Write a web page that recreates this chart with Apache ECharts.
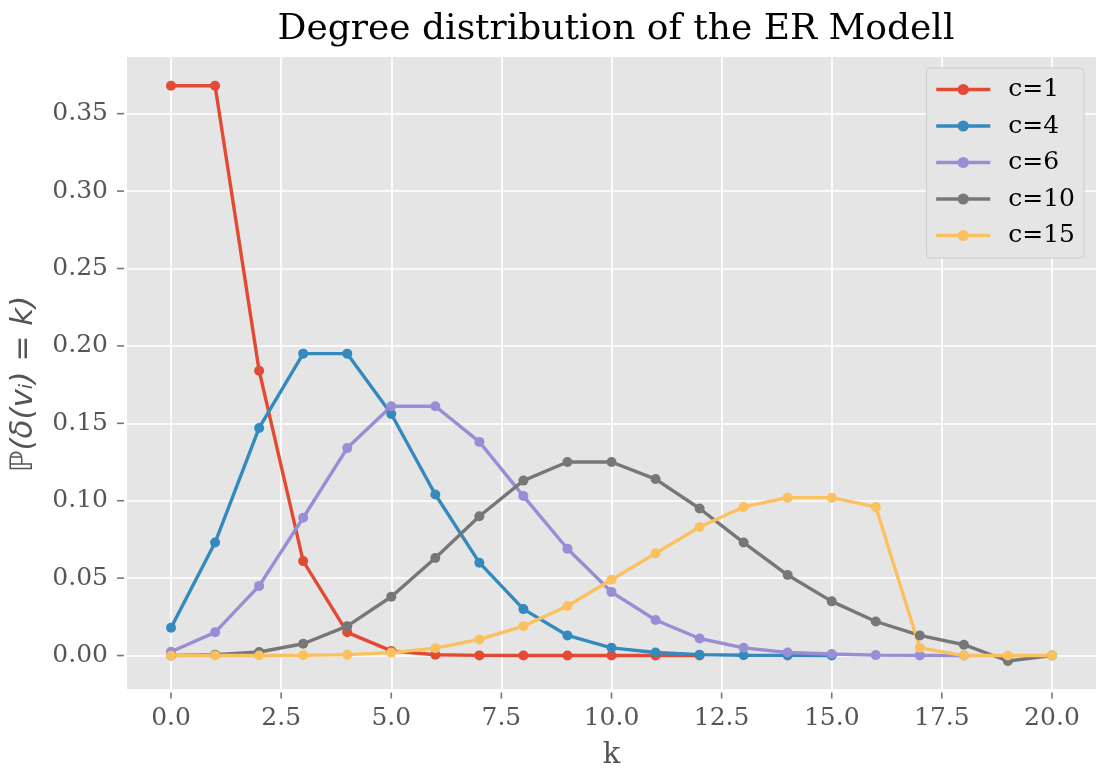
<!DOCTYPE html>
<html>
<head>
<meta charset="utf-8">
<script src="https://cdn.jsdelivr.net/npm/echarts@6/dist/echarts.min.js"></script>
<style>
  html, body { margin: 0; padding: 0; background: #fff; }
  #chart { width: 1097px; height: 773px; }
</style>
</head>
<body>
<div id="chart"></div>
<script>
// values
var kValues = [0, 1, 2, 3, 4, 5, 6, 7, 8, 9, 10, 11, 12, 13, 14, 15, 16, 17, 18, 19, 20];
var c1  = [0.368, 0.368, 0.184, 0.061, 0.015, 0.003, 0.0005, 0.0001, 0, 0, 0, 0, 0];
var c4  = [0.018, 0.073, 0.147, 0.195, 0.195, 0.156, 0.104, 0.060, 0.030, 0.013, 0.005, 0.002, 0.0006, 0.0002, 0.0001, 0];
var c6  = [0.0025, 0.015, 0.045, 0.089, 0.134, 0.161, 0.161, 0.138, 0.103, 0.069, 0.041, 0.023, 0.011, 0.005, 0.002, 0.001, 0.0003, 0.0001, 0];
var c10 = [0, 0.0005, 0.0023, 0.0076, 0.019, 0.038, 0.063, 0.090, 0.113, 0.125, 0.125, 0.114, 0.095, 0.073, 0.052, 0.035, 0.022, 0.013, 0.007, -0.0035, 0];
var c15 = [0, 0, 0, 0.0002, 0.0006, 0.0019, 0.0048, 0.0104, 0.019, 0.032, 0.049, 0.066, 0.083, 0.096, 0.102, 0.102, 0.096, 0.005, 0, 0, 0];
var seriesNames = ['c=1', 'c=4', 'c=6', 'c=10', 'c=15'];
var xTicks = [0, 2.5, 5, 7.5, 10, 12.5, 15, 17.5, 20];
var yTicks = [0, 0.05, 0.10, 0.15, 0.20, 0.25, 0.30, 0.35];

var colors = ['#E24A33', '#348ABD', '#988ED5', '#777777', '#FBC15E'];
var serif = 'DejaVu Serif';
var xMin = -1, xMax = 21;
var yMin = -0.0216, yMax = 0.3866;

function pairs(ys) {
    return ys.map(function (y, i) { return [kValues[i], y]; });
}

var chart = echarts.init(document.getElementById('chart'));

var series = [c1, c4, c6, c10, c15].map(function (ys, i) {
    return {
        name: seriesNames[i],
        type: 'line',
        data: pairs(ys),
        symbol: 'circle',
        symbolSize: 10,
        showSymbol: true,
        animation: false,
        lineStyle: { width: 3.4, color: colors[i] },
        itemStyle: { color: colors[i] },
        emphasis: { disabled: true }
    };
});

// matplotlib-style outward tick marks, placed on the axis edges through the scales
series.push({
    name: 'x ticks',
    type: 'scatter',
    data: xTicks.map(function (v) { return [v, yMin]; }),
    symbol: 'rect',
    symbolSize: [1.6, 6],
    symbolOffset: [0, 6.5],
    clip: false,
    silent: true,
    animation: false,
    z: 5,
    itemStyle: { color: '#555555' },
    emphasis: { disabled: true }
});
series.push({
    name: 'y ticks',
    type: 'scatter',
    data: yTicks.map(function (v) { return [xMin, v]; }),
    symbol: 'rect',
    symbolSize: [7, 1.6],
    symbolOffset: [-6.5, 0],
    clip: false,
    silent: true,
    animation: false,
    z: 5,
    itemStyle: { color: '#555555' },
    emphasis: { disabled: true }
});

var option = {
    backgroundColor: '#ffffff',
    color: colors,
    tooltip: { show: false },
    title: {
        text: 'Degree distribution of the ER Modell',
        left: 611,
        top: 7,
        textAlign: 'center',
        textStyle: { fontFamily: serif, fontSize: 36, fontWeight: 'normal', color: '#000' }
    },
    grid: {
        left: 127,
        right: 1,
        top: 57,
        bottom: 84,
        outerBoundsMode: 'none',
        show: true,
        backgroundColor: '#E5E5E5',
        borderWidth: 0
    },
    legend: {
        orient: 'vertical',
        right: 13,
        top: 68,
        padding: [9, 9, 10, 8],
        itemWidth: 54,
        itemHeight: 14,
        itemGap: 11.5,
        backgroundColor: '#E5E5E5',
        borderColor: '#CCCCCC',
        borderWidth: 1,
        borderRadius: 4,
        lineStyle: { width: 3.5 },
        textStyle: { fontFamily: serif, fontSize: 25, color: '#000', padding: [0, 0, 0, 13] },
        data: seriesNames
    },
    xAxis: {
        type: 'value',
        min: xMin,
        max: xMax,
        name: 'k',
        nameLocation: 'middle',
        nameGap: 52,
        nameTextStyle: { fontFamily: serif, fontSize: 29, color: '#555' },
        axisLine: { show: false, onZero: false },
        axisTick: { show: false, customValues: xTicks },
        axisLabel: {
            margin: 17,
            fontFamily: serif,
            fontSize: 25,
            color: '#555',
            customValues: xTicks,
            formatter: function (v) { return v.toFixed(1); }
        },
        splitLine: { show: true, lineStyle: { color: '#fff', width: 1.7 } }
    },
    yAxis: {
        type: 'value',
        min: yMin,
        max: yMax,
        name: 'ℙ(δ(vᵢ) = k)',
        nameLocation: 'middle',
        nameGap: 88,
        nameTextStyle: { fontFamily: 'DejaVu Sans', fontStyle: 'italic', fontSize: 31, color: '#555', padding: [0, 22, 0, 0] },
        axisLine: { show: false, onZero: false },
        axisTick: { show: false, customValues: yTicks },
        axisLabel: {
            margin: 19,
            fontFamily: serif,
            fontSize: 25,
            color: '#555',
            customValues: yTicks,
            formatter: function (v) { return v.toFixed(2); }
        },
        splitLine: { show: true, lineStyle: { color: '#fff', width: 1.7 } }
    },
    series: series
};

chart.setOption(option);
</script>
</body>
</html>
